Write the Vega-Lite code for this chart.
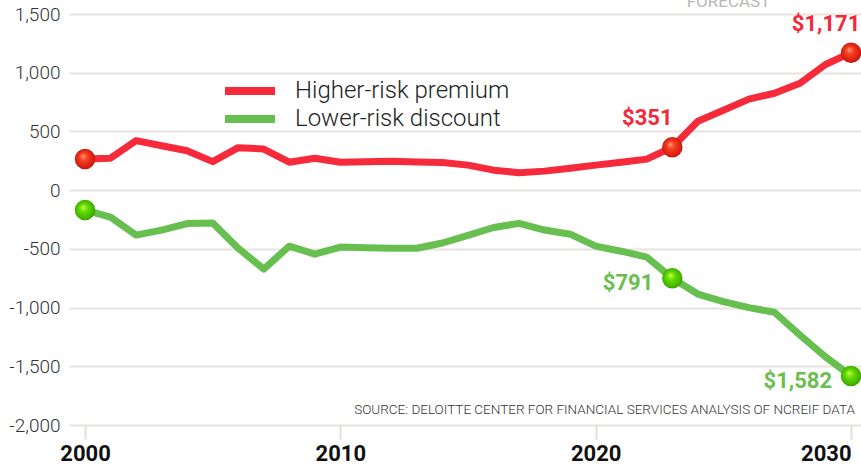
{
  "$schema": "https://vega.github.io/schema/vega-lite/v6.json",
  "width": 792,
  "height": 411,
  "autosize": "none",
  "padding": {"left": 69, "top": 14, "right": 0, "bottom": 42},
  "background": "white",
  "config": {"view": {"stroke": null}, "font": "Roboto"},
  "datasets": {
    "series": [
      {"year": 2000, "value": 265, "series": "Higher-risk premium"},
      {"year": 2001, "value": 272, "series": "Higher-risk premium"},
      {"year": 2002, "value": 422, "series": "Higher-risk premium"},
      {"year": 2003, "value": 378, "series": "Higher-risk premium"},
      {"year": 2004, "value": 335, "series": "Higher-risk premium"},
      {"year": 2005, "value": 243, "series": "Higher-risk premium"},
      {"year": 2006, "value": 362, "series": "Higher-risk premium"},
      {"year": 2007, "value": 350, "series": "Higher-risk premium"},
      {"year": 2008, "value": 238, "series": "Higher-risk premium"},
      {"year": 2009, "value": 272, "series": "Higher-risk premium"},
      {"year": 2010, "value": 238, "series": "Higher-risk premium"},
      {"year": 2011, "value": 241, "series": "Higher-risk premium"},
      {"year": 2012, "value": 245, "series": "Higher-risk premium"},
      {"year": 2013, "value": 240, "series": "Higher-risk premium"},
      {"year": 2014, "value": 236, "series": "Higher-risk premium"},
      {"year": 2015, "value": 213, "series": "Higher-risk premium"},
      {"year": 2016, "value": 170, "series": "Higher-risk premium"},
      {"year": 2017, "value": 148, "series": "Higher-risk premium"},
      {"year": 2018, "value": 162, "series": "Higher-risk premium"},
      {"year": 2019, "value": 187, "series": "Higher-risk premium"},
      {"year": 2020, "value": 213, "series": "Higher-risk premium"},
      {"year": 2021, "value": 238, "series": "Higher-risk premium"},
      {"year": 2022, "value": 264, "series": "Higher-risk premium"},
      {"year": 2023, "value": 365, "series": "Higher-risk premium"},
      {"year": 2024, "value": 587, "series": "Higher-risk premium"},
      {"year": 2025, "value": 680, "series": "Higher-risk premium"},
      {"year": 2026, "value": 775, "series": "Higher-risk premium"},
      {"year": 2027, "value": 825, "series": "Higher-risk premium"},
      {"year": 2028, "value": 910, "series": "Higher-risk premium"},
      {"year": 2029, "value": 1070, "series": "Higher-risk premium"},
      {"year": 2030, "value": 1171, "series": "Higher-risk premium"},
      {"year": 2000, "value": -170, "series": "Lower-risk discount"},
      {"year": 2001, "value": -230, "series": "Lower-risk discount"},
      {"year": 2002, "value": -383, "series": "Lower-risk discount"},
      {"year": 2003, "value": -340, "series": "Lower-risk discount"},
      {"year": 2004, "value": -285, "series": "Lower-risk discount"},
      {"year": 2005, "value": -280, "series": "Lower-risk discount"},
      {"year": 2006, "value": -495, "series": "Lower-risk discount"},
      {"year": 2007, "value": -672, "series": "Lower-risk discount"},
      {"year": 2008, "value": -477, "series": "Lower-risk discount"},
      {"year": 2009, "value": -545, "series": "Lower-risk discount"},
      {"year": 2010, "value": -485, "series": "Lower-risk discount"},
      {"year": 2011, "value": -490, "series": "Lower-risk discount"},
      {"year": 2012, "value": -495, "series": "Lower-risk discount"},
      {"year": 2013, "value": -495, "series": "Lower-risk discount"},
      {"year": 2014, "value": -450, "series": "Lower-risk discount"},
      {"year": 2015, "value": -385, "series": "Lower-risk discount"},
      {"year": 2016, "value": -318, "series": "Lower-risk discount"},
      {"year": 2017, "value": -283, "series": "Lower-risk discount"},
      {"year": 2018, "value": -340, "series": "Lower-risk discount"},
      {"year": 2019, "value": -375, "series": "Lower-risk discount"},
      {"year": 2020, "value": -477, "series": "Lower-risk discount"},
      {"year": 2021, "value": -520, "series": "Lower-risk discount"},
      {"year": 2022, "value": -570, "series": "Lower-risk discount"},
      {"year": 2023, "value": -750, "series": "Lower-risk discount"},
      {"year": 2024, "value": -885, "series": "Lower-risk discount"},
      {"year": 2025, "value": -950, "series": "Lower-risk discount"},
      {"year": 2026, "value": -1000, "series": "Lower-risk discount"},
      {"year": 2027, "value": -1040, "series": "Lower-risk discount"},
      {"year": 2028, "value": -1235, "series": "Lower-risk discount"},
      {"year": 2029, "value": -1420, "series": "Lower-risk discount"},
      {"year": 2030, "value": -1582, "series": "Lower-risk discount"}
    ],
    "markers": [
      {"year": 2000, "value": 265, "series": "Higher-risk premium", "label": ""},
      {"year": 2023, "value": 365, "series": "Higher-risk premium", "label": "$351"},
      {"year": 2030, "value": 1171, "series": "Higher-risk premium", "label": "$1,171"},
      {"year": 2000, "value": -170, "series": "Lower-risk discount", "label": ""},
      {"year": 2023, "value": -750, "series": "Lower-risk discount", "label": "$791"},
      {"year": 2030, "value": -1582, "series": "Lower-risk discount", "label": "$1,582"}
    ],
    "notes": [
      {"year": 2025.2, "value": 1600, "note": "FORECAST", "kind": "forecast"},
      {"year": 2030.15, "value": -1872, "note": "SOURCE: DELOITTE CENTER FOR FINANCIAL SERVICES ANALYSIS OF NCREIF DATA", "kind": "source"}
    ]
  },
  "layer": [
    {
      "data": {"name": "series"},
      "mark": {"type": "line", "strokeWidth": 7, "strokeCap": "round", "strokeJoin": "round", "clip": false},
      "encoding": {
        "x": {
          "field": "year", "type": "quantitative",
          "scale": {"domain": [1999.373, 2030.39], "nice": false, "zero": false},
          "axis": {
            "values": [2000, 2010, 2020, 2030], "title": null, "grid": false, "domain": false,
            "format": "d", "ticks": true, "tickColor": "#e2deda", "tickWidth": 2, "tickSize": 14,
            "labelFont": "Roboto", "labelFontWeight": "bold", "labelFontSize": 22, "labelColor": "#111",
            "labelPadding": 4, "labelFlush": 12
          }
        },
        "y": {
          "field": "value", "type": "quantitative",
          "scale": {"domain": [-2000, 1500], "nice": false, "zero": false},
          "axis": {
            "values": [-2000, -1500, -1000, -500, 0, 500, 1000, 1500], "title": null,
            "domain": false, "ticks": false, "grid": true, "gridColor": "#e8e4e0", "gridWidth": 2,
            "labelExpr": "replace(format(datum.value, ','), '\u2212', '-')",
            "labelFont": "Roboto", "labelFontWeight": 300, "labelFontSize": 19, "labelColor": "#333",
            "labelPadding": 9, "labelBaseline": "middle"
          }
        },
        "color": {
          "field": "series", "type": "nominal",
          "scale": {"domain": ["Higher-risk premium", "Lower-risk discount"], "range": ["#f72a3b", "#67bf50"]},
          "legend": {
            "title": null, "orient": "none", "legendX": 152, "legendY": 63, "padding": 0,
            "symbolType": "M-1,0H3", "symbolSize": 625, "symbolStrokeWidth": 8,
            "labelFont": "Roboto", "labelFontSize": 24, "labelColor": "#222", "labelFontWeight": 300,
            "labelLimit": 400, "rowPadding": 0, "clipHeight": 28, "labelOffset": 41
          }
        }
      }
    },
    {
      "data": {"name": "markers"},
      "transform": [{"filter": "datum.series == 'Higher-risk premium'"}],
      "mark": {
        "type": "point", "filled": true, "size": 420, "shape": "circle", "opacity": 1, "clip": false,
        "color": {"gradient": "radial", "x1": 0.4, "y1": 0.35, "r1": 0, "x2": 0.5, "y2": 0.5, "r2": 0.55,
          "stops": [{"offset": 0, "color": "#ff9a7a"}, {"offset": 0.35, "color": "#f5401f"}, {"offset": 0.85, "color": "#d41a10"}, {"offset": 1, "color": "#a81008"}]}
      },
      "encoding": {
        "x": {"field": "year", "type": "quantitative"},
        "y": {"field": "value", "type": "quantitative"}
      }
    },
    {
      "data": {"name": "markers"},
      "transform": [{"filter": "datum.series == 'Lower-risk discount'"}],
      "mark": {
        "type": "point", "filled": true, "size": 420, "shape": "circle", "opacity": 1, "clip": false,
        "color": {"gradient": "radial", "x1": 0.4, "y1": 0.35, "r1": 0, "x2": 0.5, "y2": 0.5, "r2": 0.55,
          "stops": [{"offset": 0, "color": "#c8ff50"}, {"offset": 0.35, "color": "#66dd00"}, {"offset": 0.85, "color": "#3fb000"}, {"offset": 1, "color": "#2a8200"}]}
      },
      "encoding": {
        "x": {"field": "year", "type": "quantitative"},
        "y": {"field": "value", "type": "quantitative"}
      }
    },
    {
      "data": {"name": "markers"},
      "transform": [{"filter": "datum.series == 'Higher-risk premium' && datum.label != ''"}],
      "mark": {"type": "text", "font": "Roboto", "fontWeight": "bold", "fontSize": 22, "color": "#f22a3a", "align": "center", "baseline": "middle", "dx": -25, "dy": -29},
      "encoding": {
        "x": {"field": "year", "type": "quantitative"},
        "y": {"field": "value", "type": "quantitative"},
        "text": {"field": "label"}
      }
    },
    {
      "data": {"name": "markers"},
      "transform": [{"filter": "datum.series == 'Lower-risk discount' && datum.label != ''"}],
      "mark": {"type": "text", "font": "Roboto", "fontWeight": "bold", "fontSize": 22, "color": "#6abf4f", "align": "right", "baseline": "middle", "dx": -19, "dy": 5},
      "encoding": {
        "x": {"field": "year", "type": "quantitative"},
        "y": {"field": "value", "type": "quantitative"},
        "text": {"field": "label"}
      }
    },
    {
      "data": {"name": "notes"},
      "transform": [{"filter": "datum.kind == 'forecast'"}],
      "mark": {"type": "text", "font": "Roboto", "fontSize": 17, "color": "#b8b8b8", "align": "center", "baseline": "middle", "clip": false},
      "encoding": {
        "x": {"field": "year", "type": "quantitative"},
        "y": {"field": "value", "type": "quantitative"},
        "text": {"field": "note"}
      }
    },
    {
      "data": {"name": "notes"},
      "transform": [{"filter": "datum.kind == 'source'"}],
      "mark": {"type": "text", "font": "Roboto", "fontSize": 13.5, "fontWeight": 300, "color": "#333", "align": "right", "baseline": "middle"},
      "encoding": {
        "x": {"field": "year", "type": "quantitative"},
        "y": {"field": "value", "type": "quantitative"},
        "text": {"field": "note"}
      }
    }
  ]
}
